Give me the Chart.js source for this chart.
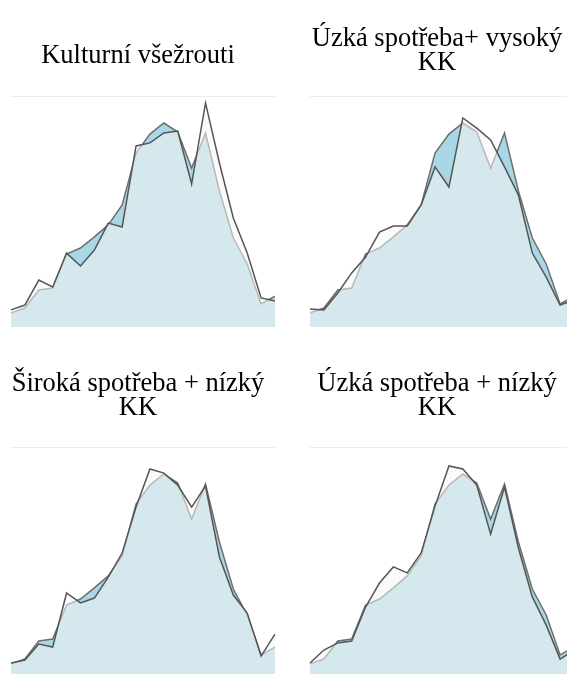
<!DOCTYPE html>
<html>
<head>
<meta charset="utf-8">
<script src="https://cdn.jsdelivr.net/npm/chart.js@4/dist/chart.umd.min.js"></script>
<style>
html, body { margin: 0; padding: 0; background: #fff; overflow: hidden; width: 567px; height: 674px; }
canvas { position: absolute; }
</style>
</head>
<body>
<canvas id="c0"></canvas>
<canvas id="c1"></canvas>
<canvas id="c2"></canvas>
<canvas id="c3"></canvas>
<script>
// ---- data ----
const categories = ['1','2','3','4','5','6','7','8','9','10','11','12','13','14','15','16','17','18','19','20'];
// shared reference profile (light line)
const overall = [6.1, 8.2, 16.0, 16.9, 31.6, 34.2, 39.0, 44.2, 52.8, 75.3, 83.5, 88.3, 84.4, 68.8, 84.0, 58.9, 38.5, 27.3, 10.0, 13.4];
// group profiles (dark line)
const kulturniVsezrouti = [7.4, 9.5, 20.3, 17.3, 32.0, 26.4, 33.3, 45.0, 43.3, 78.4, 79.7, 84.0, 84.8, 61.9, 97.0, 71.0, 47.2, 32.0, 12.6, 11.3];
const uzkaVysokyKK = [7.8, 7.4, 14.7, 23.4, 30.3, 41.1, 43.7, 43.7, 52.8, 69.3, 60.6, 90.5, 86.1, 81.0, 69.3, 57.1, 32.0, 21.6, 9.5, 11.7];
const sirokaNizkyKK = [6.5, 7.8, 14.7, 13.4, 36.8, 32.5, 34.6, 43.7, 54.1, 74.0, 90.5, 88.7, 83.5, 74.0, 83.1, 52.4, 35.9, 28.1, 9.5, 19.0];
const uzkaNizkyKK = [6.5, 12.1, 15.2, 16.0, 30.7, 41.1, 48.1, 45.5, 54.1, 74.5, 91.8, 90.5, 83.5, 62.3, 82.7, 56.3, 35.1, 22.9, 8.2, 12.1];
const titleLines = [
  ['Kulturní všežrouti'],
  ['Úzká spotřeba+ vysoký', 'KK'],
  ['Široká spotřeba + nízký', 'KK'],
  ['Úzká spotřeba + nízký', 'KK']
];
const groupSeries = [kulturniVsezrouti, uzkaVysokyKK, sirokaNizkyKK, uzkaNizkyKK];

// ---- layout (per panel canvas) ----
const CELL_W = 299, CELL_H = 351;
const AREA = { left: 11, top: 96, right: 275, bottom: 327 };
const cells = [
  { left: 0,   top: 0,   titleBase: 63 },
  { left: 299, top: 0,   titleBase: 46 },
  { left: 0,   top: 351, titleBase: 40 },
  { left: 299, top: 351, titleBase: 40 }
];

const panelTitle = {
  id: 'panelTitle',
  afterDraw(chart, args, opts) {
    const ctx = chart.ctx;
    ctx.save();
    ctx.fillStyle = '#000';
    ctx.font = '26.5px "Liberation Serif", "Times New Roman", serif';
    ctx.textAlign = 'center';
    ctx.textBaseline = 'alphabetic';
    opts.lines.forEach((line, k) => ctx.fillText(line, opts.x, opts.base + k * 24));
    ctx.restore();
  }
};

function makeChart(canvas, series, lines, base) {
  return new Chart(canvas, {
    type: 'line',
    data: {
      labels: categories,
      datasets: [
        { label: 'skupina', data: series, borderColor: '#555555', borderWidth: 1.5,
          backgroundColor: 'rgba(245,245,245,0.55)', fill: 'origin', pointRadius: 0, tension: 0 },
        { label: 'celkem', data: overall, borderColor: '#6e6e6e', borderWidth: 1.5,
          backgroundColor: 'rgb(170,215,229)', fill: 'origin', pointRadius: 0, tension: 0 }
      ]
    },
    options: {
      responsive: false,
      animation: false,
      devicePixelRatio: 1,
      layout: { padding: { left: AREA.left, top: AREA.top, right: CELL_W - AREA.right, bottom: CELL_H - AREA.bottom } },
      plugins: {
        legend: { display: false }, tooltip: { enabled: false }, title: { display: false },
        panelTitle: { lines: lines, x: 138, base: base }
      },
      scales: {
        x: { display: false, offset: false },
        y: {
          min: 0, max: 100, display: true,
          afterFit(s) { s.width = 0; },
          ticks: { display: false, stepSize: 100 },
          border: { display: false },
          grid: { drawTicks: false, lineWidth: 1,
                  color: c => (c.tick && c.tick.value === 100) ? '#e6eef1' : 'rgba(0,0,0,0)' }
        }
      }
    },
    plugins: [panelTitle]
  });
}

cells.forEach((p, i) => {
  const c = document.getElementById('c' + i);
  c.width = CELL_W;
  c.height = CELL_H;
  c.style.left = p.left + 'px';
  c.style.top = p.top + 'px';
  makeChart(c, groupSeries[i], titleLines[i], p.titleBase);
});
</script>
</body>
</html>
